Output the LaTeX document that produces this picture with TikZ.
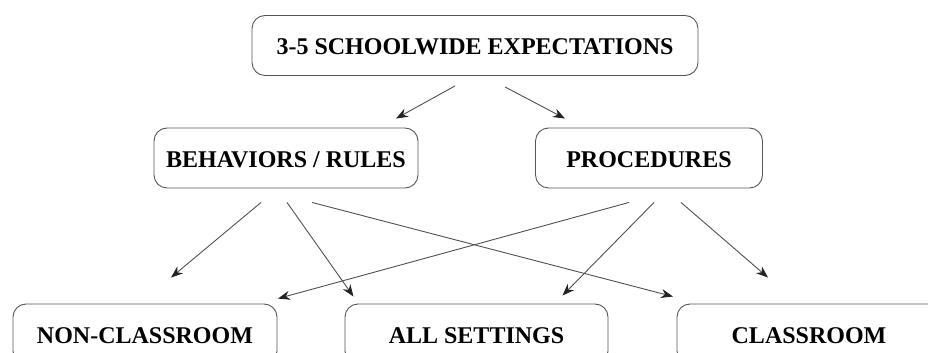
\documentclass[tikz,border=0pt]{standalone}
\usepackage{fontspec}
\setmainfont{Liberation Serif}
\usetikzlibrary{arrows.meta}
\definecolor{BoxGray}{RGB}{85, 85, 85}
\definecolor{ArrGray}{RGB}{80, 80, 80}
\definecolor{TipDark}{RGB}{35, 35, 35}
\newcommand{\lw}{0.9pt}

\begin{document}
\begin{tikzpicture}[x=1pt, y=1pt,
    level/.style={draw=BoxGray, line width=\lw, rounded corners=13pt,
      minimum height=60pt, inner sep=0pt, text height=19pt, text depth=0pt,
      font=\fontsize{24}{28}\selectfont\bfseries},
    arr/.style={-{Stealth[length=12pt, width=9pt, color=TipDark]}, draw=ArrGray, line width=\lw}]
  \clip (0,0) rectangle (928,353);
  \node[level, minimum width=446pt] (top)  at (475, 307.5) {3-5 SCHOOLWIDE EXPECTATIONS};
  \node[level, minimum width=264pt] (rule) at (286, 195)   {BEHAVIORS / RULES};
  \node[level, minimum width=227pt] (proc) at (649, 195)   {PROCEDURES};
  \node[level, minimum width=264pt] (non)  at (145, 19)    {NON-CLASSROOM};
  \node[level, minimum width=263pt] (all)  at (476.5, 19)  {ALL SETTINGS};
  \node[level, minimum width=264pt] (cls)  at (809, 19)    {CLASSROOM};

  \draw[arr] ([xshift=-20pt, yshift=-10pt]top.south) -- ([xshift=110pt, yshift=9pt]rule.north);
  \draw[arr] ([xshift=30pt, yshift=-11pt]top.south) -- ([xshift=-84pt, yshift=9pt]proc.north);

  \draw[arr] ([xshift=-25pt, yshift=-14pt]rule.south) -- ([xshift=26pt, yshift=26pt]non.north);
  \draw[arr] ([xshift=1pt, yshift=-14pt]rule.south) -- ([xshift=-123pt, yshift=7pt]all.north);
  \draw[arr] ([xshift=26pt, yshift=-14pt]rule.south) -- ([xshift=-136pt, yshift=7pt]cls.north);

  \draw[arr] ([xshift=-20pt, yshift=-14pt]proc.south) -- ([xshift=133pt, yshift=5pt]non.north);
  \draw[arr] ([xshift=5pt, yshift=-14pt]proc.south) -- ([xshift=86pt, yshift=8pt]all.north);
  \draw[arr] ([xshift=32pt, yshift=-14pt]proc.south) -- ([xshift=-41pt, yshift=26pt]cls.north);
\end{tikzpicture}
\end{document}
